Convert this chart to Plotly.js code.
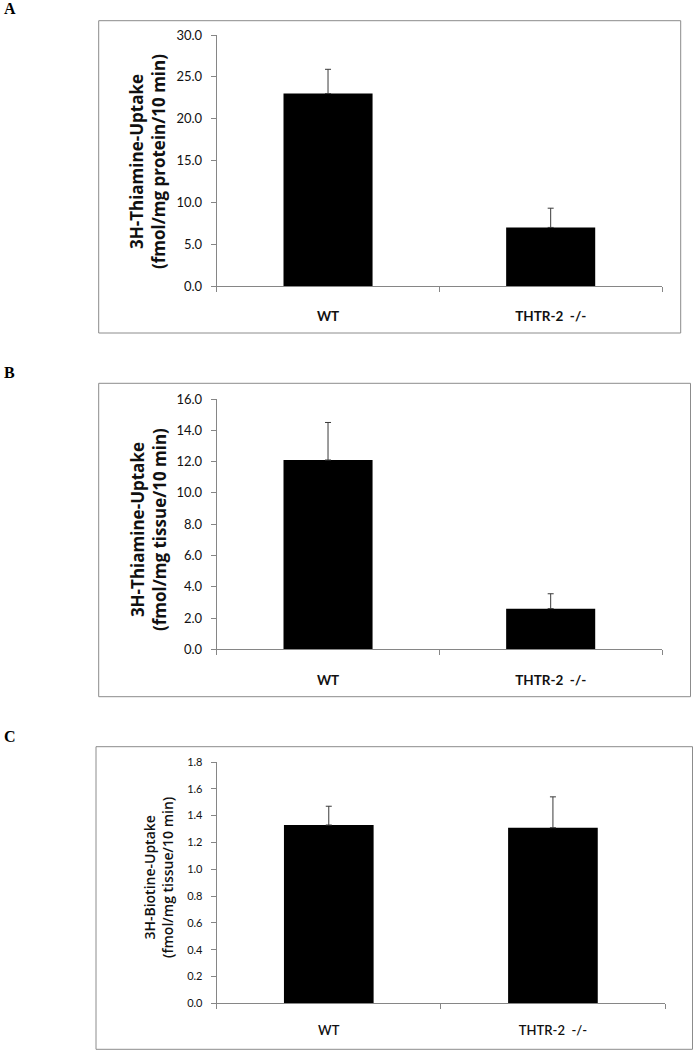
<!DOCTYPE html>
<html>
<head>
<meta charset="utf-8">
<script src="https://cdn.plot.ly/plotly-3.0.1.min.js"></script>
<style>html,body{margin:0;padding:0;background:#fff;}#chart{width:694px;height:1050px;}</style>
</head>
<body>
<div id="chart"></div>
<script>
// ---- data ----
const categories = ['WT', 'THTR-2\u00a0 -/-'];
const thiamineProtein = [23.0, 7.0];
const thiamineProteinErr = [2.9, 2.3];
const thiamineTissue = [12.1, 2.6];
const thiamineTissueErr = [2.4, 0.95];
const biotineTissue = [1.33, 1.31];
const biotineTissueErr = [0.14, 0.23];
const yTitles = [
  '3H-Thiamine-Uptake<br>(fmol/mg protein/10 min)',
  '3H-Thiamine-Uptake<br>(fmol/mg tissue/10 min)',
  '3H-Biotine-Uptake<br>(fmol/mg tissue/10 min)'
];
const panelLabels = ['A', 'B', 'C'];

// ---- layout helpers (pixel -> paper) ----
const W = 694, H = 1050;
const px = v => v / W;
const py = v => 1 - v / H;

const FONT = 'Lato, "Open Sans", sans-serif';
const TFONT = '"Open Sans", Lato, sans-serif';
const axisGrey = '#868686';

function bar(xa, ya, vals, errs) {
  return {
    type: 'bar', x: categories, y: vals, xaxis: xa, yaxis: ya,
    width: 0.4,
    marker: {color: '#000000', line: {color: '#000000', width: 0}},
    error_y: {type: 'data', symmetric: false, array: errs, arrayminus: errs.map(() => 0),
              color: '#3a3a3a', thickness: 1, width: 3},
    showlegend: false, hoverinfo: 'skip'
  };
}

const data = [
  bar('x', 'y', thiamineProtein, thiamineProteinErr),
  bar('x2', 'y2', thiamineTissue, thiamineTissueErr),
  bar('x3', 'y3', biotineTissue, biotineTissueErr)
];

function xax(domain, anchor, size, weight, standoff) {
  return {
    domain: domain, anchor: anchor, type: 'category',
    showline: true, linecolor: axisGrey, linewidth: 1,
    ticks: 'outside', tickson: 'boundaries', ticklen: 5, tickcolor: axisGrey, tickwidth: 1,
    showgrid: false, zeroline: false, fixedrange: true,
    tickfont: {family: FONT, size: size, color: '#111', weight: weight},
    ticklabelstandoff: standoff
  };
}
function yax(domain, anchor, range, dtick, size) {
  return {
    domain: domain, anchor: anchor, range: range, dtick: dtick, tick0: 0,
    tickformat: '.1f',
    showline: true, linecolor: axisGrey, linewidth: 1,
    ticks: 'outside', ticklen: 5, tickcolor: axisGrey, tickwidth: 1,
    showgrid: false, zeroline: false, fixedrange: true,
    tickfont: {family: FONT, size: size, color: '#111'},
    ticklabelstandoff: 6
  };
}

const layout = {
  width: W, height: H,
  margin: {l: 0, r: 0, t: 0, b: 0},
  paper_bgcolor: '#ffffff', plot_bgcolor: 'rgba(0,0,0,0)',
  showlegend: false,
  xaxis:  xax([px(216.7), px(662)], 'y', 13.5, 'bold', 18),
  yaxis:  yax([py(286), py(35)], 'x', [0, 30], 5, 13),
  xaxis2: xax([px(216.7), px(662)], 'y2', 13.5, 'bold', 18),
  yaxis2: yax([py(649.3), py(399)], 'x2', [0, 16], 2, 13),
  xaxis3: xax([px(216.7), px(665)], 'y3', 13, 600, 15),
  yaxis3: yax([py(1003.3), py(762)], 'x3', [0, 1.8], 0.2, 11),
  shapes: [
    {type: 'rect', xref: 'paper', yref: 'paper', x0: px(98.7), x1: px(680.7), y0: py(333), y1: py(20.7),
     line: {color: '#8c8c8c', width: 1}},
    {type: 'rect', xref: 'paper', yref: 'paper', x0: px(98.7), x1: px(690.5), y0: py(696.7), y1: py(383.3),
     line: {color: '#8c8c8c', width: 1}},
    {type: 'rect', xref: 'paper', yref: 'paper', x0: px(96), x1: px(692.5), y0: py(1049.3), y1: py(746.7),
     line: {color: '#8c8c8c', width: 1}}
  ],
  annotations: [
    {text: panelLabels[0], xref: 'paper', yref: 'paper', x: px(2), y: py(9), xanchor: 'left', yanchor: 'middle',
     showarrow: false, font: {family: '"Liberation Serif", "Times New Roman", serif', size: 16, color: '#000', weight: 'bold'}},
    {text: panelLabels[1], xref: 'paper', yref: 'paper', x: px(2), y: py(372), xanchor: 'left', yanchor: 'middle',
     showarrow: false, font: {family: '"Liberation Serif", "Times New Roman", serif', size: 16, color: '#000', weight: 'bold'}},
    {text: panelLabels[2], xref: 'paper', yref: 'paper', x: px(2), y: py(736), xanchor: 'left', yanchor: 'middle',
     showarrow: false, font: {family: '"Liberation Serif", "Times New Roman", serif', size: 16, color: '#000', weight: 'bold'}},
    {text: yTitles[0], xref: 'paper', yref: 'paper', x: px(148), y: py(162), xanchor: 'center', yanchor: 'middle',
     textangle: -90, showarrow: false, font: {family: TFONT, size: 17, color: '#111', weight: 'bold'}},
    {text: yTitles[1], xref: 'paper', yref: 'paper', x: px(148), y: py(530), xanchor: 'center', yanchor: 'middle',
     textangle: -90, showarrow: false, font: {family: TFONT, size: 17, color: '#111', weight: 'bold'}},
    {text: yTitles[2], xref: 'paper', yref: 'paper', x: px(158), y: py(878), xanchor: 'center', yanchor: 'middle',
     textangle: -90, showarrow: false, font: {family: TFONT, size: 14, color: '#111', weight: 600}}
  ]
};

Plotly.newPlot('chart', data, layout, {staticPlot: true, displayModeBar: false});
</script>
</body>
</html>
